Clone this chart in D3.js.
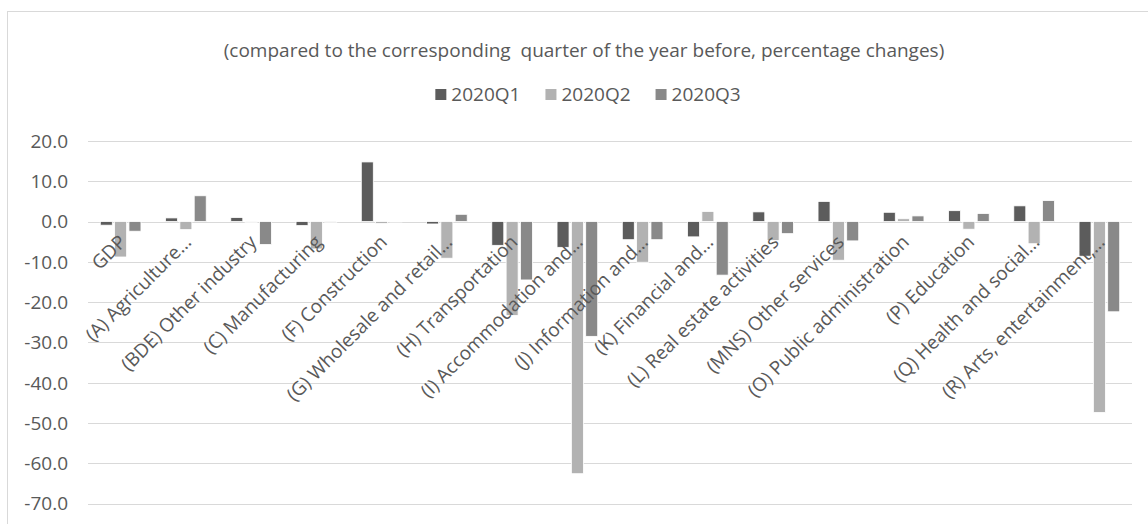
<!DOCTYPE html>
<html>
<head>
<meta charset="utf-8">
<script src="https://cdn.jsdelivr.net/npm/d3@7"></script>
<style>
  html, body { margin: 0; padding: 0; background: #fff; }
  svg { display: block; }
  text { font-family: "Open Sans", "Noto Sans", sans-serif; fill: #595959; }
</style>
</head>
<body>
<svg id="chart" width="1148" height="524"></svg>
<script>
// Quarterly growth by sector, year-on-year percentage changes
const categories = [
  "GDP",
  "(A) Agriculture…",
  "(BDE) Other industry",
  "(C) Manufacturing",
  "(F) Construction",
  "(G) Wholesale and retail…",
  "(H) Transportation",
  "(I) Accommodation and…",
  "(J) Information and…",
  "(K) Financial and…",
  "(L) Real estate activities",
  "(MNS) Other services",
  "(O) Public administration",
  "(P) Education",
  "(Q) Health and social…",
  "(R) Arts, entertainment,…"
];
const seriesNames = ["2020Q1", "2020Q2", "2020Q3"];
const q1 = [-0.9, 0.9, 1.0, -1.0, 14.8, -0.6, -5.9, -6.4, -4.5, -3.8, 2.4, 5.0, 2.3, 2.7, 3.9, -8.6];
const q2 = [-8.8, -2.0, -0.2, -6.8, -0.5, -9.1, -23.3, -62.6, -10.1, 2.5, -4.7, -9.6, 0.7, -1.9, -5.5, -47.4];
const q3 = [-2.4, 6.4, -5.7, -0.2, -0.1, 1.8, -14.5, -28.5, -4.5, -13.3, -3.0, -4.8, 1.4, 2.0, 5.2, -22.4];
const yTicks = [20, 10, 0, -10, -20, -30, -40, -50, -60, -70];
const titleText = "(compared to the corresponding  quarter of the year before, percentage changes)";

const seriesValues = [q1, q2, q3];
const colors = ["#5c5c5c", "#b2b2b2", "#898989"];
const fontSize = "19px";

const svg = d3.select("#chart");

// chart area frame
svg.append("rect")
  .attr("x", 7.5).attr("y", 11.5)
  .attr("width", 1160).attr("height", 540)
  .attr("fill", "#fff").attr("stroke", "#d9d9d9").attr("stroke-width", 1);

const plot = { left: 88, right: 1132, top: 141, bottom: 503.5 };

const x = d3.scaleBand().domain(categories).range([plot.left, plot.right]).paddingInner(0).paddingOuter(0);
const y = d3.scaleLinear().domain([20, -70]).range([plot.top, plot.bottom]);

// gridlines
svg.append("g")
  .selectAll("line").data(yTicks).join("line")
  .attr("x1", plot.left).attr("x2", plot.right)
  .attr("y1", d => Math.round(y(d)) + 0.5).attr("y2", d => Math.round(y(d)) + 0.5)
  .attr("stroke", "#d9d9d9").attr("stroke-width", 1);

// y tick labels
svg.append("g")
  .selectAll("text").data(yTicks).join("text")
  .attr("x", 68).attr("y", d => y(d))
  .attr("dy", "0.36em")
  .attr("text-anchor", "end")
  .style("font-size", fontSize)
  .text(d => d.toFixed(1));

// bars
const inner = d3.scaleBand().domain(seriesNames).range([-21.5, 21.5]).paddingInner(0);
const barW = 12;
const barData = [];
categories.forEach((c, i) => {
  seriesNames.forEach((s, j) => barData.push({ c, s, j, v: seriesValues[j][i] }));
});
svg.append("g")
  .selectAll("rect").data(barData).join("rect")
  .attr("x", d => x(d.c) + x.bandwidth() / 2 + inner(d.s) + inner.bandwidth() / 2 - barW / 2)
  .attr("y", d => Math.min(y(d.v), y(0)))
  .attr("width", barW)
  .attr("height", d => Math.abs(y(d.v) - y(0)))
  .attr("fill", d => colors[d.j])
  .attr("stroke", "#ffffff").attr("stroke-width", 0.8);

// category labels, rotated
svg.append("g")
  .selectAll("text").data(categories).join("text")
  .attr("transform", d => `translate(${x(d) + x.bandwidth() / 2 - 3},${y(0) + 12}) rotate(-45)`)
  .attr("text-anchor", "end")
  .attr("dy", "0.72em")
  .style("font-size", fontSize)
  .text(d => d);

// title
svg.append("text")
  .attr("x", 584).attr("y", 57)
  .attr("text-anchor", "middle")
  .attr("xml:space", "preserve")
  .style("white-space", "pre")
  .style("font-size", fontSize)
  .text(titleText);

// legend
const legend = svg.append("g");
let lx = 0;
seriesNames.forEach((s, j) => {
  const g = legend.append("g");
  g.append("rect").attr("x", 0).attr("y", 89).attr("width", 11).attr("height", 11).attr("fill", colors[j]);
  const t = g.append("text").attr("x", 16).attr("y", 101).style("font-size", fontSize).text(s);
  const w = 16 + t.node().getComputedTextLength();
  g.attr("transform", `translate(${lx},0)`);
  lx += w + 25;
});
const legendWidth = lx - 25;
legend.attr("transform", `translate(${588 - legendWidth / 2},0)`);
</script>
</body>
</html>
